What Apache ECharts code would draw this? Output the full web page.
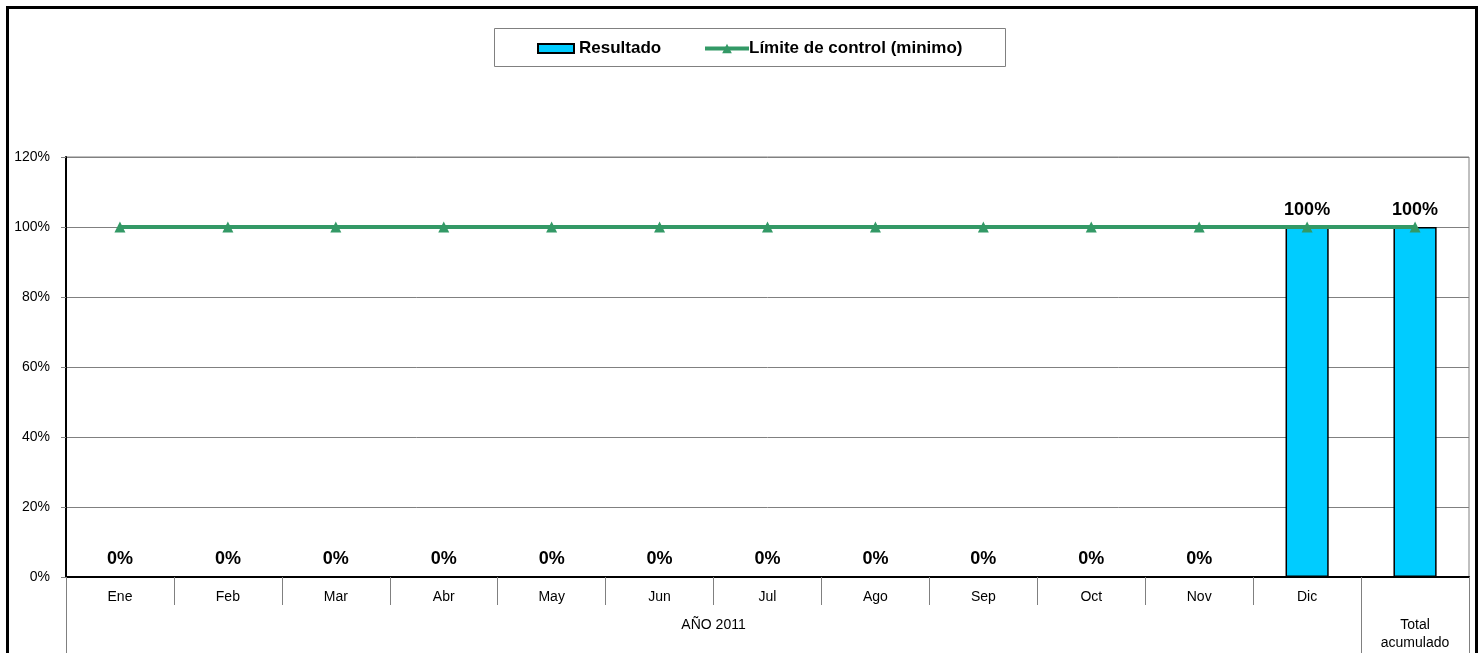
<!DOCTYPE html>
<html>
<head>
<meta charset="utf-8">
<script src="https://cdn.jsdelivr.net/npm/echarts@6/dist/echarts.min.js"></script>
<style>
html,body{margin:0;padding:0;background:#fff;}
#chart{position:absolute;left:0;top:0;width:1484px;height:653px;}
#frame{position:absolute;left:6px;top:6px;width:1466px;height:700px;border:3px solid #000;pointer-events:none;}
</style>
</head>
<body>
<div id="chart"></div>
<div id="frame"></div>
<script>
const categories = ['Ene','Feb','Mar','Abr','May','Jun','Jul','Ago','Sep','Oct','Nov','Dic','Total acumulado'];
const resultado = [0,0,0,0,0,0,0,0,0,0,0,1,1];
const limite = [1,1,1,1,1,1,1,1,1,1,1,1,1];
const yTicks = [0,0.2,0.4,0.6,0.8,1.0,1.2];
const groupLabels = {6:'AÑO 2011', 12.5:'Total\nacumulado'};

const FONT = 'Arial, "Liberation Sans", sans-serif';
const chart = echarts.init(document.getElementById('chart'), null, {renderer:'canvas'});
chart.setOption({
  animation:false,
  backgroundColor:'#fff',
  textStyle:{fontFamily:FONT},
  graphic:[{type:'rect', left:494, top:28, shape:{width:511, height:38}, style:{fill:'#fff', stroke:'#808080', lineWidth:1}, z:-1}],
  legend:[
    {data:[{name:'Resultado', icon:'rect'}], left:537, top:40, padding:0, itemWidth:36, itemHeight:9, itemGap:0,
     textStyle:{fontFamily:FONT, fontSize:17, fontWeight:'bold', color:'#000', padding:[0,0,0,0]}},
    {data:[{name:'Límite de control (minimo)', lineStyle:{width:4, color:'#339966'}}], left:703, top:40, padding:0, itemWidth:44, itemHeight:12, itemGap:0,
     textStyle:{fontFamily:FONT, fontSize:17, fontWeight:'bold', color:'#000', padding:[0,0,0,-5]}}
  ],
  grid:{left:66, right:15, top:157, bottom:76, show:true, borderColor:'#808080', borderWidth:1, backgroundColor:'transparent'},
  xAxis:[
    {type:'category', data:categories, boundaryGap:true,
     axisLine:{show:true, lineStyle:{color:'#000', width:2}},
     axisTick:{show:true, interval:0, length:28, lineStyle:{color:'#808080'}},
     axisLabel:{interval:0, margin:13, fontFamily:FONT, fontSize:14, color:'#000',
       formatter:(v,i)=> i===12 ? '' : v},
     splitLine:{show:false}},
    {type:'value', min:0, max:13, position:'bottom', gridIndex:0,
     axisLine:{show:false},
     axisTick:{show:true, customValues:[0,12,13], length:76, lineStyle:{color:'#808080'}},
     axisLabel:{customValues:[6,12.5], margin:39, fontFamily:FONT, fontSize:14, color:'#000', lineHeight:18,
       formatter:(v)=> groupLabels[v] || ''},
     splitLine:{show:false}}
  ],
  yAxis:{type:'value', min:0, max:1.2, interval:0.2,
    axisLine:{show:true, lineStyle:{color:'#000', width:2}},
    axisTick:{show:true, length:5, lineStyle:{color:'#808080'}},
    axisLabel:{margin:16, fontFamily:FONT, fontSize:14, color:'#000',
      formatter:(v)=> Math.round(v*100)+'%'},
    splitLine:{show:true, lineStyle:{color:'#808080', width:1}}},
  series:[
    {name:'Resultado', type:'bar', data:resultado, barWidth:'40%',
     itemStyle:{color:'#00CCFF', borderColor:'#000', borderWidth:1.5},
     label:{show:true, position:'top', distance:8, fontFamily:FONT, fontSize:18, fontWeight:'bold', color:'#000',
       formatter:(p)=> Math.round(p.value*100)+'%'}, z:2},
    {name:'Límite de control (minimo)', type:'line', data:limite, symbol:'triangle', symbolSize:11,
     lineStyle:{color:'#339966', width:4}, itemStyle:{color:'#339966'}, z:3}
  ]
});
</script>
</body>
</html>
